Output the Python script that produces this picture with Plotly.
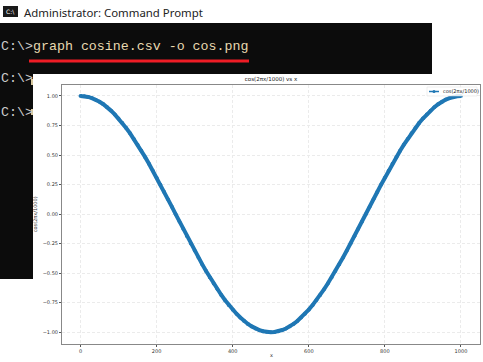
import plotly.graph_objects as go

# Values (one point every 10 x units)
x_values = [0, 10, 20, 30, 40, 50, 60, 70, 80, 90, 100, 110, 120, 130, 140, 150, 160, 170, 180, 190,
            200, 210, 220, 230, 240, 250, 260, 270, 280, 290, 300, 310, 320, 330, 340, 350, 360, 370, 380, 390,
            400, 410, 420, 430, 440, 450, 460, 470, 480, 490, 500, 510, 520, 530, 540, 550, 560, 570, 580, 590,
            600, 610, 620, 630, 640, 650, 660, 670, 680, 690, 700, 710, 720, 730, 740, 750, 760, 770, 780, 790,
            800, 810, 820, 830, 840, 850, 860, 870, 880, 890, 900, 910, 920, 930, 940, 950, 960, 970, 980, 990, 1000]
y_values = [1.000, 0.998, 0.992, 0.982, 0.969, 0.951, 0.930, 0.905, 0.876, 0.844,
            0.809, 0.771, 0.729, 0.685, 0.637, 0.588, 0.536, 0.482, 0.426, 0.368,
            0.309, 0.249, 0.187, 0.125, 0.063, 0.000, -0.063, -0.125, -0.187, -0.249,
            -0.309, -0.368, -0.426, -0.482, -0.536, -0.588, -0.637, -0.685, -0.729, -0.771,
            -0.809, -0.844, -0.876, -0.905, -0.930, -0.951, -0.969, -0.982, -0.992, -0.998,
            -1.000, -0.998, -0.992, -0.982, -0.969, -0.951, -0.930, -0.905, -0.876, -0.844,
            -0.809, -0.771, -0.729, -0.685, -0.637, -0.588, -0.536, -0.482, -0.426, -0.368,
            -0.309, -0.249, -0.187, -0.125, -0.063, 0.000, 0.063, 0.125, 0.187, 0.249,
            0.309, 0.368, 0.426, 0.482, 0.536, 0.588, 0.637, 0.685, 0.729, 0.771,
            0.809, 0.844, 0.876, 0.905, 0.930, 0.951, 0.969, 0.982, 0.992, 0.998, 1.000]
x_ticks = [0, 200, 400, 600, 800, 1000]
y_ticks = [-1.00, -0.75, -0.50, -0.25, 0.00, 0.25, 0.50, 0.75, 1.00]
y_tick_labels = ["\u22121.00", "\u22120.75", "\u22120.50", "\u22120.25", "0.00", "0.25", "0.50", "0.75", "1.00"]
series_name = "cos(2\u03c0x/1000)"
chart_title = "cos(2\u03c0x/1000) vs x"
window_title = "Administrator: Command Prompt"
command = "graph cosine.csv -o cos.png"
prompt = "C:\\>"

W, H = 483, 362
def px(v): return v / W
def py(v): return 1 - v / H

fig = go.Figure(go.Scatter(
    x=x_values, y=y_values, mode="lines+markers", name=series_name, showlegend=False,
    line=dict(color="#1f77b4", width=4), marker=dict(color="#1f77b4", size=3.8),
))

def rect(x0, y0, x1, y1, color, line=None):
    return dict(type="rect", xref="paper", yref="paper", layer="below",
                x0=px(x0), x1=px(x1), y0=py(y0), y1=py(y1),
                fillcolor=color, line=line or dict(width=0))

shapes = [
    rect(0, 23, 432, 74, "#0c0c0c"),
    rect(0, 74, 33, 279, "#0c0c0c"),
    rect(33, 74, 483, 362, "#ffffff"),
    rect(29, 59.5, 249, 62.5, "#ee1c25"),
    rect(3, 6, 18, 17, "#1a1a1a"),
    rect(31, 79, 33, 85, "#d8c9a0"),
    rect(31, 109, 33, 115, "#d8c9a0"),
    # legend box, line sample and marker
    dict(type="rect", xref="paper", yref="paper", layer="above",
         x0=px(427), x1=px(477), y0=py(87), y1=py(96),
         fillcolor="rgba(255,255,255,0.85)", line=dict(color="#dddddd", width=0.5)),
    dict(type="line", xref="paper", yref="paper", layer="above",
         x0=px(429), x1=px(439), y0=py(91.5), y1=py(91.5),
         line=dict(color="#1f77b4", width=1.5)),
    dict(type="circle", xref="paper", yref="paper", layer="above",
         x0=px(432.5), x1=px(435.5), y0=py(90), y1=py(93),
         fillcolor="#1f77b4", line=dict(width=0)),
]

def text(x, y, s, size, color, family, anchor="left"):
    return dict(xref="paper", yref="paper", x=px(x), y=py(y), text=s, showarrow=False,
                xanchor=anchor, yanchor="middle", align="left", borderpad=0,
                font=dict(size=size, color=color, family=family))

MONO = "Liberation Mono"
annotations = [
    text(23, 12, window_title, 11.4, "#222222", "Noto Sans"),
    text(0, 47, prompt, 13.3, "#cccccc", MONO),
    text(32, 47, command, 13.3, "#e8d9b0", MONO),
    text(0, 79, prompt, 13.3, "#cccccc", MONO),
    text(0, 112, prompt, 13.3, "#cccccc", MONO),
    text(4.5, 11.5, "C:\\", 6, "#ffffff", "DejaVu Sans"),
    text(442, 91.5, series_name, 5, "#222222", "DejaVu Sans"),
    text((62 + 480) / 2, 355, "x", 5, "#333333", "DejaVu Sans", anchor="center"),
]

fig.update_layout(
    width=W, height=H, autosize=False,
    margin=dict(l=0, r=0, t=0, b=0),
    paper_bgcolor="rgba(0,0,0,0)", plot_bgcolor="rgba(0,0,0,0)",
    shapes=shapes, annotations=annotations,
    font=dict(family="DejaVu Sans", size=5, color="#333333"),
    title=dict(text=chart_title, x=(62 + 480) / 2 / W, xanchor="center",
               y=py(79.5), yanchor="middle", font=dict(size=5.5, color="#222222")),
    showlegend=False,
    xaxis=dict(domain=[px(62), px(480)], range=[-48.6, 1050],
               tickvals=x_ticks, ticktext=[str(v) for v in x_ticks],
               showline=True, linecolor="#888888", linewidth=1, mirror=True,
               showgrid=True, gridcolor="#ebebeb", griddash="3px,2px", gridwidth=1,
               zeroline=False, ticks="outside", ticklen=2, tickcolor="#555555", tickwidth=0.6,
               tickfont=dict(size=5, color="#333333")),
    yaxis=dict(domain=[py(344), py(84.5)], range=[-1.1, 1.097],
               tickvals=y_ticks, ticktext=y_tick_labels,
               showline=True, linecolor="#888888", linewidth=1, mirror=True,
               showgrid=True, gridcolor="#ebebeb", griddash="3px,2px", gridwidth=1,
               zeroline=False, ticks="outside", ticklen=2, tickcolor="#555555", tickwidth=0.6,
               tickfont=dict(size=5, color="#333333"),
               title=dict(text=series_name, font=dict(size=5, color="#333333"), standoff=4)),
)

fig.write_html("out.html", config=dict(displayModeBar=False),
               post_script="document.body.style.margin='0';document.documentElement.style.overflow='hidden';")
